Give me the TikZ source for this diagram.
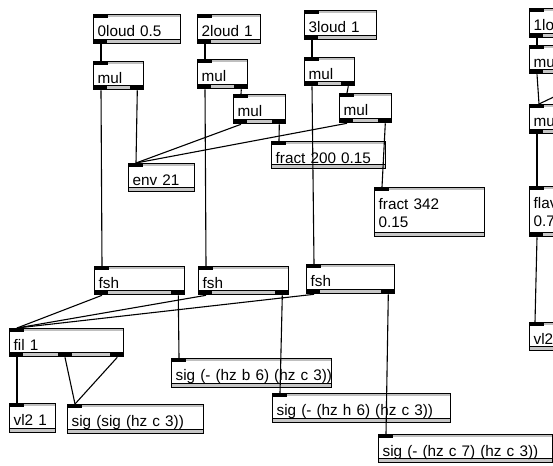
\documentclass[tikz,border=0pt]{standalone}
\usepackage{fontspec}
\setmainfont{Liberation Sans}
\usetikzlibrary{calc}
\tikzset{
  pbox/.style={draw=black, line width=1.3pt, fill=white, anchor=north west,
    inner xsep=4pt, inner ysep=0pt, align=left, text height=21.5pt,
    font=\fontsize{15.3}{18.5}\selectfont,
    path picture={
      \fill[gray!50] ($(path picture bounding box.north west)+(0,0.6)$) rectangle ($(path picture bounding box.north east)+(0,2.6)$);
      \fill[black] (path picture bounding box.north west) rectangle ($(path picture bounding box.north west)+(14,3.2)$);
      \fill[black] ($(path picture bounding box.south west)+(0,-4.6)$) rectangle ($(path picture bounding box.south east)+(0,-3.6)$);
      \fill[gray!45] ($(path picture bounding box.south west)+(0,-3.6)$) rectangle ($(path picture bounding box.south east)+(0,-0.6)$);
    }},
  wire/.style={line width=1.1pt, draw=black},
  outmark/.style={fill=black},
}
\newcommand\pdbox[6]{%
  \pgfmathsetmacro\pdw{#4-#2-8}\pgfmathsetmacro\pdd{#5-#3-21.5}%
  \node[pbox, text width=\pdw pt, text depth=\pdd pt] (#1) at (#2,#3) {#6};}
\begin{document}
\begin{tikzpicture}[x=1pt,y=-1pt]
\useasboundingbox (0,0) rectangle (553,465);
\clip (0,0) rectangle (553,465);
\fill[white] (0,0) rectangle (553,465);
% boxes
\pdbox{loud0}{93}{14}{180}{43}{\mbox{0loud 0.5}}
\pdbox{mulA}{93}{61}{143}{89}{mul}
\pdbox{loud2}{197}{14}{260}{43}{\mbox{2loud 1}}
\pdbox{mulB}{197}{59}{247}{88}{mul}
\pdbox{mulBb}{233}{94}{285}{123}{mul}
\pdbox{loud3}{304}{10}{376}{39}{\mbox{3loud 1}}
\pdbox{mulC}{304}{57}{354}{85}{mul}
\pdbox{mulCb}{339}{93}{391}{122}{mul}
\pdbox{env}{128}{163}{194}{191}{\mbox{env 21}}
\pdbox{fractA}{271}{141}{385}{168}{\mbox{fract 200 0.15}}
\pdbox{fractB}{374}{187}{484}{236}{\mbox{fract 342}\\0.15}
\pdbox{fshA}{94}{266}{184}{294}{fsh}
\pdbox{fshB}{198}{266}{288}{294}{fsh}
\pdbox{fshC}{306}{264}{394}{293}{fsh}
\pdbox{fil}{9}{328}{123}{356}{\mbox{fil 1}}
\pdbox{vlA}{9}{403}{55}{432}{\mbox{vl2 1}}
\pdbox{sigS}{67}{404}{203}{433}{\mbox{sig (sig (hz c 3))}}
\pdbox{sigB}{171}{358}{331}{387}{\mbox{sig (- (hz b 6) (hz c 3))}}
\pdbox{sigH}{272}{393}{450}{422}{\mbox{sig (- (hz h 6) (hz c 3))}}
\pdbox{sigC}{378}{434}{552}{462}{\mbox{sig (- (hz c 7) (hz c 3))}}
% right column (cut by the edge of the picture)
\pdbox{rloud}{529}{8}{590}{37}{1lo}
\pdbox{rmulA}{529}{45}{590}{73}{mu}
\pdbox{rmulB}{529}{104}{590}{133}{mu}
\pdbox{rflav}{529}{186}{590}{236}{flav\\0.7}
\pdbox{rvl}{529}{322}{590}{350}{vl2}
\coordinate (offr) at (560,94);
% outlet marks
\foreach \n in {loud0,mulA,loud2,mulB,mulBb,loud3,mulC,mulCb,fshA,fshB,fshC,fil,rloud,rmulA,rmulB,rflav}
  \fill[outmark] ($(\n.south west)+(0,-4.6)$) rectangle ($(\n.south west)+(14,0)$);
\foreach \n in {mulA,mulB,mulBb,mulC,mulCb,fshA,fshB,fshC,fil}
  \fill[outmark] ($(\n.south east)+(-14,-4.6)$) rectangle (\n.south east);
\fill[outmark] ($(fil.south west)+(49,-4.6)$) rectangle ($(fil.south west)+(63,0)$);
% wires
\draw[wire] ($(loud0.south west)+(8,0)$) -- ($(mulA.north west)+(8,0)$);
\draw[wire] ($(mulA.south west)+(8,0)$) -- ($(fshA.north west)+(8,0)$);
\draw[wire] ($(mulA.south east)+(-7,0)$) -- ($(env.north west)+(8,0)$);
\draw[wire] ($(loud2.south west)+(8,0)$) -- ($(mulB.north west)+(8,0)$);
\draw[wire] ($(mulB.south west)+(8,0)$) -- ($(fshB.north west)+(8,0)$);
\draw[wire] ($(mulB.south east)+(-7,0)$) -- ($(mulBb.north west)+(8,0)$);
\draw[wire] ($(mulBb.south west)+(8,0)$) -- ($(env.north west)+(8,0)$);
\draw[wire] ($(mulBb.south east)+(-7,0)$) -- ($(fractA.north west)+(8,0)$);
\draw[wire] ($(loud3.south west)+(8,0)$) -- ($(mulC.north west)+(8,0)$);
\draw[wire] ($(mulC.south west)+(8,0)$) -- ($(fshC.north west)+(8,0)$);
\draw[wire] ($(mulC.south east)+(-7,0)$) -- ($(mulCb.north west)+(8,0)$);
\draw[wire] ($(mulCb.south west)+(8,0)$) -- ($(env.north west)+(8,0)$);
\draw[wire] ($(mulCb.south east)+(-7,0)$) -- ($(fractB.north west)+(8,0)$);
\draw[wire] ($(fshA.south west)+(8,0)$) -- ($(fil.north west)+(8,0)$);
\draw[wire] ($(fshB.south west)+(8,0)$) -- ($(fil.north west)+(8,0)$);
\draw[wire] ($(fshC.south west)+(8,0)$) -- ($(fil.north west)+(8,0)$);
\draw[wire] ($(fshA.south east)+(-7,0)$) -- ($(sigB.north west)+(8,0)$);
\draw[wire] ($(fshB.south east)+(-7,0)$) -- ($(sigH.north west)+(8,0)$);
\draw[wire] ($(fshC.south east)+(-7,0)$) -- ($(sigC.north west)+(8,0)$);
\draw[wire] ($(fil.south west)+(8,0)$) -- ($(vlA.north west)+(8,0)$);
\draw[wire] ($(fil.south west)+(56,0)$) -- ($(sigS.north west)+(8,0)$);
\draw[wire] ($(fil.south east)+(-7,0)$) -- ($(sigS.north west)+(8,0)$);
\draw[wire] ($(rloud.south west)+(8,0)$) -- ($(rmulA.north west)+(8,0)$);
\draw[wire] ($(rmulA.south west)+(8,0)$) -- ($(rmulB.north west)+(10,0)$);
\draw[wire] (offr) -- ($(rmulB.north west)+(10,0)$);
\draw[wire] ($(rmulB.south west)+(8,0)$) -- ($(rflav.north west)+(8,0)$);
\draw[wire] ($(rflav.south west)+(8,0)$) -- ($(rvl.north west)+(6,0)$);
\end{tikzpicture}
\end{document}
